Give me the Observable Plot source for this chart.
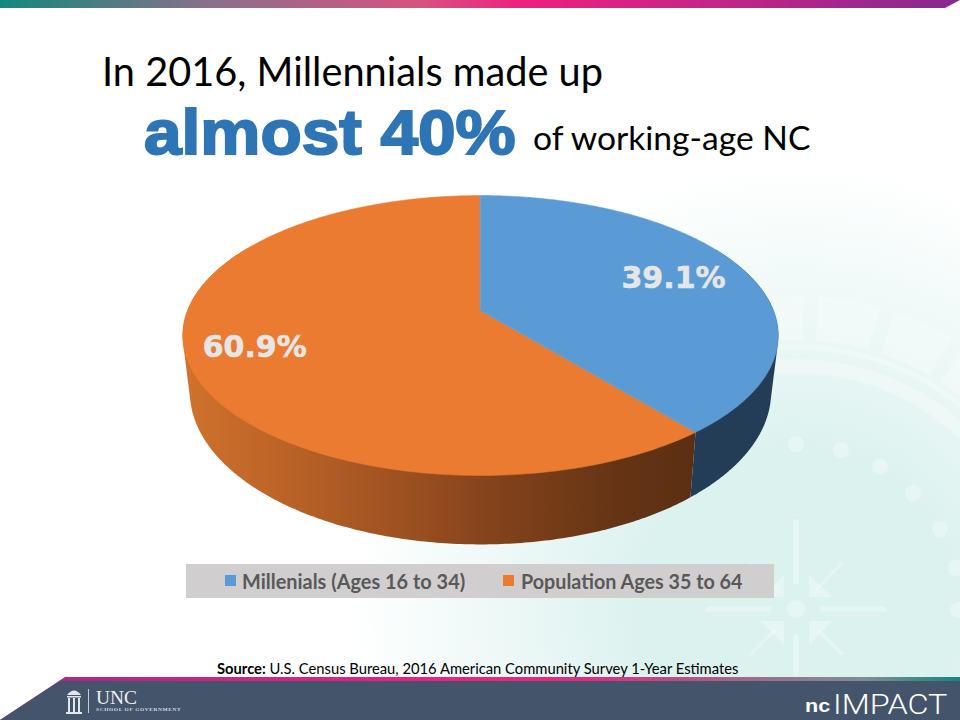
<!DOCTYPE html>
<html>
<head>
<meta charset="utf-8">
<script src="https://cdn.jsdelivr.net/npm/d3@7"></script>
<script src="https://cdn.jsdelivr.net/npm/@observablehq/plot@0.6"></script>
<style>
html,body{margin:0;padding:0;background:#fff}
#slide{position:relative;width:960px;height:720px;overflow:hidden;background:radial-gradient(circle 445px at 796px 609px,#dcf2ef 0,#dcf2ef 35%,#ffffff 100%)}
#slide>*{position:absolute}
#topbar{left:0;top:0;width:960px;height:8px;background:linear-gradient(90deg,#11887f 0,#8b7089 22%,#d8527f 44%,#ee2080 54%,#c42488 75%,#86298f 100%);clip-path:polygon(0 0,100% 0,945px 100%,0 100%)}
#botstrip{left:0;top:677px;width:960px;height:43px;background:linear-gradient(90deg,#a12a8e 0,#ee2080 45%,#e52a80 62%,#a06a85 78%,#7f8f90 90%,#14877e 100%);clip-path:polygon(65px 0,100% 0,100% 100%,0 100%)}
#botbar{left:0;top:681px;width:960px;height:39px;background:#44546a;clip-path:polygon(60px 0,100% 0,100% 100%,0 100%)}
.t{white-space:nowrap;transform-origin:left top;line-height:1;color:#000}
#l1{left:102px;top:46px;font:41px Lato,sans-serif}
#big{left:144px;top:96px;font:bold 63px "Liberation Sans",sans-serif;color:#2e75b6;-webkit-text-stroke:2px #2e75b6}
#l2{left:533px;top:117px;font:33px Lato,sans-serif}
#chart{left:0;top:180px}
#legend{left:186px;top:564px;width:588px;height:34px;background:#d0cecf}
#legend i{position:absolute;top:11px;width:11px;height:11px}
#legend span{position:absolute;top:7px;font:bold 20px Lato,sans-serif;color:#595959;line-height:1;white-space:nowrap;transform-origin:left top}
#source{left:217px;top:659px;font:15px Lato,sans-serif}
#unc{left:96px;top:687.5px;font:18px "Liberation Serif",serif;color:#eef0f3}
#sog{left:96px;top:706.5px;font:bold 5px "Liberation Serif",serif;color:#d8dce2;letter-spacing:.6px}
#nc{left:805px;top:695px;font:bold 19px "Liberation Sans",sans-serif;color:#fff}
#impact{left:833px;top:689px;font:300 27px Roboto,sans-serif;color:#fff}
</style>
</head>
<body>
<div id="slide">
  <svg id="decor" width="960" height="720" style="left:0;top:0">
    <g fill="none" stroke="#fff" stroke-opacity=".28">
      <path id="ringA" stroke-width="5"/>
      <path id="ringB" stroke-width="14"/>
      <path id="ringC" stroke-width="44" stroke-dasharray="58 14"/>
    </g>
    <g fill="#fff" fill-opacity=".3">
      <circle cx="796" cy="444" r="8"/><circle cx="841" cy="450" r="8"/><circle cx="880" cy="467" r="8"/>
      <circle cx="913" cy="493" r="8"/><circle cx="940" cy="529" r="8"/><circle cx="956" cy="568" r="8"/><circle cx="958" cy="610" r="8"/>
      <circle cx="796" cy="609" r="9"/>
      <rect x="706" y="606.5" width="65" height="5"/><rect x="820" y="606.5" width="66" height="5"/>
      <rect x="793.5" y="519" width="5" height="65"/><rect x="793.5" y="634" width="5" height="44"/>
      <path d="M809 597V575L832 597Z"/><path d="M784 597V575L761 597Z"/>
      <path d="M784 621V645L760 621Z"/><path d="M809 621V645L832 621Z"/>
    </g>
    <g stroke="#fff" stroke-opacity=".3" stroke-width="3">
      <path d="M816 590L842 563"/><path d="M777 590L750 563"/><path d="M775 630L750 655"/><path d="M818 630L843 655"/>
    </g>
  </svg>
  <div id="topbar"></div>
  <div id="botstrip"></div>
  <div id="botbar"></div>
  <div class="t" id="l1" data-w="501">In 2016, Millennials made up</div>
  <div class="t" id="big" data-w="372">almost 40%</div>
  <div class="t" id="l2" data-w="277">of working-age NC</div>
  <div id="chart"></div>
  <div id="legend"></div>
  <div class="t" id="source" data-w="521"><b>Source:</b> U.S. Census Bureau, 2016 American Community Survey 1-Year Estimates</div>
  <svg width="30" height="32" style="left:64px;top:686px" fill="#e4e7ea">
    <path d="M3 9Q10 0 17 9Z"/><rect x="3" y="10" width="14" height="1.5"/>
    <rect x="4" y="12" width="2" height="14"/><rect x="9" y="12" width="2" height="14"/><rect x="14" y="12" width="2" height="14"/>
    <rect x="2" y="26" width="16" height="2"/>
  </svg>
  <div style="left:88px;top:689px;width:1px;height:24px;background:#c8ccd2"></div>
  <div class="t" id="unc" data-w="41">UNC</div>
  <div class="t" id="sog" data-w="85">SCHOOL OF GOVERNMENT</div>
  <div class="t" id="nc" data-w="25">nc</div>
  <div class="t" id="impact" data-w="114">IMPACT</div>
</div>
<script>
const categories = ["Millenials (Ages 16 to 34)", "Population Ages 35 to 64"];
const shares = [39.1, 60.9];
const colors = ["#5b9bd5", "#ea7b31"];
const wallColors = ["#223d55", "url(#wallOrange)"];
const labelRadius = [0.73, 0.78];

// Perspective of the tilted disc, in units of the pie radius
const perspective = 0.1786;
const topRim = {sx: 1, sy: 0.4625, dy: 0};
const lowRim = {sx: 0.976, sy: 0.5044, dy: -0.1843};

const rad = d => d * Math.PI / 180;
function project(deg, r, rim) {
  const u = r * Math.sin(rad(deg)), v = r * Math.cos(rad(deg)), w = 1 + perspective * v;
  return [rim.sx * u / w, rim.dy + rim.sy * v / w];
}
const total = d3.sum(shares);
let acc = 0;
const slices = categories.map((name, i) => {
  const start = acc / total * 360; acc += shares[i];
  const end = acc / total * 360;
  return {name, share: shares[i], start, end, color: colors[i], wall: wallColors[i], labelR: labelRadius[i]};
});
const arc = (a, b) => d3.range(0, 1.0001, 1 / 240).map(t => a + (b - a) * t);

const faces = slices.flatMap(s =>
  [[0, 0, s.name], ...arc(s.start, s.end).map(a => [...project(a, 1, topRim), s.name])]
    .map(([x, y, name]) => ({x, y, name, color: s.color})));

const wallRanges = [[slices[0].end - 80, slices[0].end], [slices[1].start, 300]];
const walls = slices.flatMap((s, i) => {
  const [a, b] = wallRanges[i];
  const pts = arc(a, b).flatMap(d => [project(d, 1, topRim), project(d, 1, lowRim)]);
  return d3.polygonHull(pts).map(([x, y]) => ({x, y, name: s.name, wall: s.wall}));
});
const labels = slices.map(s => {
  const [x, y] = project((s.start + s.end) / 2, s.labelR, topRim);
  return {x, y, text: s.share.toFixed(1) + "%"};
});

const unit = 293, chartH = 375, chartTop = 180, cx = 480, cy = 310;
const gradient = () => {
  const defs = d3.create("svg:defs");
  const g = defs.append("linearGradient").attr("id", "wallOrange").attr("x1", 0).attr("x2", 1).attr("y1", 0).attr("y2", 0);
  [[0, "#cf722c"], [0.2, "#bb6327"], [0.45, "#9a4f20"], [0.6, "#84431b"], [0.85, "#653415"], [1, "#5c2f12"]]
    .forEach(([o, c]) => g.append("stop").attr("offset", o).attr("stop-color", c));
  return defs.node();
};
const wallMark = i => Plot.line(walls.filter(d => d.name === slices[i].name), {
  x: "x", y: "y", curve: "linear-closed", fill: wallColors[i], stroke: "none"
});
const faceMark = i => Plot.line(faces.filter(d => d.name === slices[i].name), {
  x: "x", y: "y", curve: "linear-closed", fill: colors[i], stroke: colors[i], strokeWidth: 0.5
});
const chart = Plot.plot({
  width: 960, height: chartH, margin: 0,
  style: {background: "transparent"},
  x: {domain: [-cx / unit, (960 - cx) / unit], axis: null},
  y: {domain: [-(chartTop + chartH - cy) / unit, (cy - chartTop) / unit], axis: null},
  marks: [
    gradient,
    wallMark(0), wallMark(1),
    faceMark(1), faceMark(0),
    Plot.text(labels, {x: "x", y: "y", text: "text", fill: "#e7e6e6", stroke: "#e7e6e6", strokeWidth: 0.6, fontSize: 30, fontWeight: "bold", fontFamily: "DejaVu Sans"})
  ]
});
document.getElementById("chart").append(chart);

// Decorative watermark rings behind the chart
const ringPath = r => {
  const p = a => [796 + r * Math.cos(rad(a)), 609 + r * Math.sin(rad(a))];
  const [x0, y0] = p(-100), [x1, y1] = p(-8);
  return `M${x0} ${y0}A${r} ${r} 0 0 1 ${x1} ${y1}`;
};
document.getElementById("ringA").setAttribute("d", ringPath(262));
document.getElementById("ringB").setAttribute("d", ringPath(243));
document.getElementById("ringC").setAttribute("d", ringPath(291));

const legend = document.getElementById("legend");
const legendPos = [[39, 56, 223], [317, 335, 221]];
categories.forEach((c, i) => {
  const sw = document.createElement("i");
  sw.style.left = legendPos[i][0] + "px"; sw.style.background = colors[i];
  const sp = document.createElement("span");
  sp.textContent = c; sp.className = "t"; sp.style.left = legendPos[i][1] + "px"; sp.dataset.w = legendPos[i][2];
  sp.style.color = "#595959";
  legend.append(sw, sp);
});
document.querySelectorAll("[data-w]").forEach(el => {
  el.style.display = "inline-block";
  const k = +el.dataset.w / el.offsetWidth;
  el.style.transform = `scaleX(${k})`;
});
</script>
</body>
</html>
